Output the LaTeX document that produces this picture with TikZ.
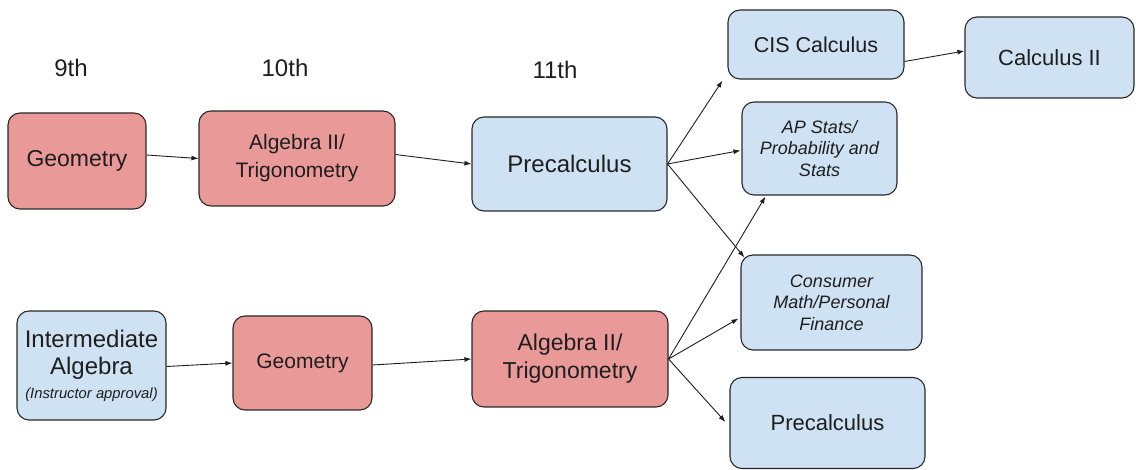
\documentclass[tikz,border=0pt]{standalone}
\usepackage{fontspec}
\setmainfont{Liberation Sans}
\usetikzlibrary{arrows.meta,calc}
\definecolor{boxred}{RGB}{234,153,153}
\definecolor{boxblue}{RGB}{207,226,243}
\definecolor{edge}{RGB}{40,40,40}
\definecolor{ink}{RGB}{30,30,30}
\tikzset{
  box/.style={draw=edge, line width=1.1pt, rounded corners=12pt, align=center, text=ink, inner sep=0pt},
  redbox/.style={box, fill=boxred},
  bluebox/.style={box, fill=boxblue},
  main/.style={font=\fontsize{22}{27}\selectfont},
  ital/.style={font=\fontsize{18}{21.5}\selectfont\itshape},
  grade/.style={font=\fontsize{24}{28}\selectfont, text=ink},
  link/.style={draw=ink, line width=0.9pt, -{Latex[length=7pt,width=5pt]}}
}
\begin{document}
\begin{tikzpicture}[x=1pt,y=-1pt]
\useasboundingbox (0,0) rectangle (1136,470);
% grade labels
\node[grade] (g9) at (71,68) {9th};
\node[grade] (g10) at (285,68) {10th};
\node[grade] (g11) at (555,70) {11th};
% top row
\node[redbox, main, minimum width=138pt, minimum height=96pt, font=\fontsize{23}{27}\selectfont] (geo1) at (77,161) {Geometry};
\node[redbox, main, minimum width=196pt, minimum height=95pt, font=\fontsize{21}{28}\selectfont] (alg1) at (297,158.5) {Algebra II/\\Trigonometry};
\node[bluebox, main, minimum width=195pt, minimum height=94pt, font=\fontsize{24}{28}\selectfont] (pre1) at (569.5,164) {Precalculus};
\node[bluebox, main, minimum width=176pt, minimum height=69pt, font=\fontsize{21.5}{27}\selectfont] (cis) at (816,44.5) {CIS Calculus};
\node[bluebox, main, minimum width=169pt, minimum height=81pt] (calc2) at (1049.5,57.5) {Calculus II};
\node[bluebox, ital, minimum width=155pt, minimum height=93pt] (ap) at (819.5,148.5) {AP Stats/\\Probability and\\Stats};
% bottom row
\node[bluebox, ital, minimum width=181pt, minimum height=95pt] (cons) at (831.5,302.5) {Consumer\\Math/Personal\\Finance};
\node[bluebox, main, minimum width=195pt, minimum height=91pt] (pre2) at (827.5,423) {Precalculus};
\node[redbox, main, minimum width=196pt, minimum height=96pt, font=\fontsize{23}{28}\selectfont] (alg2) at (570,359) {Algebra II/\\Trigonometry};
\node[bluebox, minimum width=149pt, minimum height=109pt, font=\fontsize{24}{27}\selectfont] (int) at (91.5,365.5) {Intermediate\\Algebra\\[-3pt]\fontsize{14.8}{17}\selectfont\itshape (Instructor approval)};
\node[redbox, main, minimum width=139pt, minimum height=94pt, font=\fontsize{21}{27}\selectfont] (geo2) at (302.5,363) {Geometry};
% connectors
\draw[link] ([yshift=6pt]geo1.east) -- (alg1.west);
\draw[link] ([yshift=4pt]alg1.east) -- (pre1.west);
\draw[link] (pre1.east) -- ([xshift=-5pt,yshift=-1pt]cis.south west);
\draw[link] (pre1.east) -- ([xshift=-1pt,yshift=-2pt]ap.west);
\draw[link] (pre1.east) -- ([xshift=4pt,yshift=-3pt]cons.north west);
\draw[link] (alg2.east) -- ([xshift=24pt,yshift=-1pt]ap.south west);
\draw[link] (alg2.east) -- ([xshift=-2pt,yshift=-16pt]cons.west);
\draw[link] (alg2.east) -- ([xshift=-4pt,yshift=1pt]pre2.west);
\draw[link] ([yshift=-17pt]cis.east) -- ([yshift=6.5pt]calc2.west);
\draw[link] ([yshift=-1pt]int.east) -- (geo2.west);
\draw[link] ([yshift=-2pt]geo2.east) -- (alg2.west);
\end{tikzpicture}
\end{document}
